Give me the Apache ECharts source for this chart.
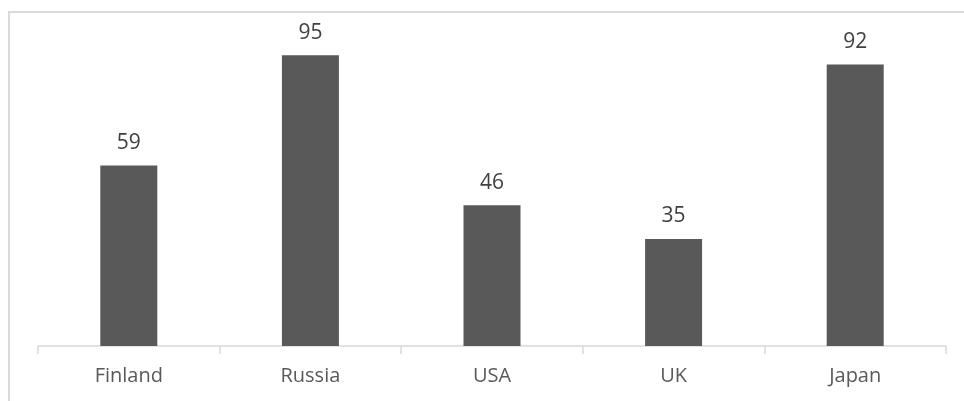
<!DOCTYPE html>
<html>
<head>
<meta charset="utf-8">
<script src="https://cdn.jsdelivr.net/npm/echarts@6/dist/echarts.min.js"></script>
<style>
html,body{margin:0;padding:0;background:#fff;}
#chart{width:964px;height:401px;}
</style>
</head>
<body>
<div id="chart"></div>
<script>
const categories = ['Finland', 'Russia', 'USA', 'UK', 'Japan'];
const values = [59, 95, 46, 35, 92];

const chart = echarts.init(document.getElementById('chart'));
chart.setOption({
  animation: false,
  backgroundColor: '#ffffff',
  graphic: [{
    type: 'rect',
    shape: { x: 9, y: 12, width: 1000, height: 500 },
    style: { fill: 'none', stroke: '#d9d9d9', lineWidth: 2 },
    silent: true
  }],
  grid: { left: 38, right: 18, top: 40, bottom: 55 },
  xAxis: {
    type: 'category',
    data: categories,
    axisLine: { lineStyle: { color: '#d9d9d9', width: 1.5 } },
    axisTick: { show: true, length: 8, lineStyle: { color: '#d9d9d9', width: 1.5 } },
    axisLabel: { color: '#595959', fontFamily: 'Open Sans', fontSize: 20, margin: 20 }
  },
  yAxis: {
    type: 'value',
    min: 0,
    max: 100,
    show: false,
    splitLine: { show: false }
  },
  series: [{
    type: 'bar',
    data: values,
    barWidth: 57,
    itemStyle: { color: '#595959' },
    label: {
      show: true,
      position: 'top',
      distance: 12,
      color: '#404040',
      fontFamily: 'Open Sans',
      fontSize: 21
    }
  }]
});
</script>
</body>
</html>
